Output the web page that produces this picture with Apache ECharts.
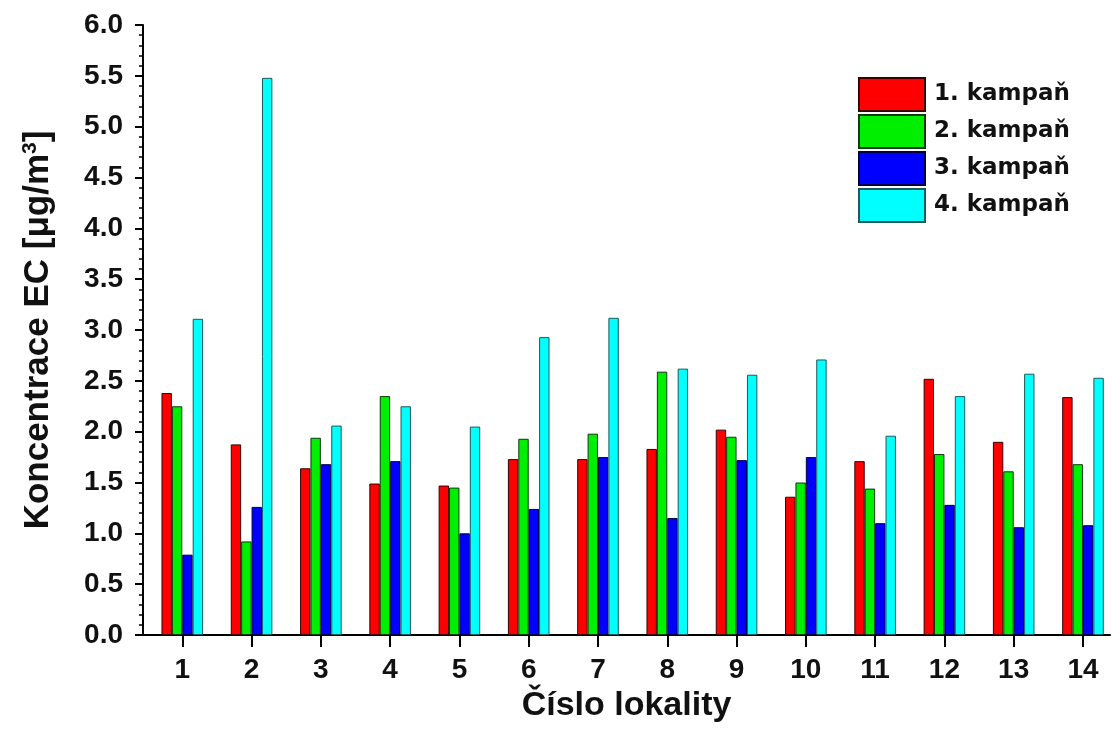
<!DOCTYPE html>
<html>
<head>
<meta charset="utf-8">
<script src="https://cdn.jsdelivr.net/npm/echarts@6/dist/echarts.min.js"></script>
<style>html,body{margin:0;padding:0;background:#fff}#c{width:1114px;height:733px}</style>
</head>
<body>
<div id="c"></div>
<script>
const categories = [1,2,3,4,5,6,7,8,9,10,11,12,13,14];
const seriesNames = ['1. kampaň','2. kampaň','3. kampaň','4. kampaň'];
const kampan1 = [2.38,1.875,1.64,1.49,1.47,1.73,1.73,1.83,2.02,1.36,1.71,2.52,1.90,2.34];
const kampan2 = [2.25,0.92,1.94,2.35,1.45,1.93,1.98,2.59,1.95,1.50,1.44,1.78,1.61,1.68];
const kampan3 = [0.79,1.26,1.68,1.71,1.00,1.24,1.75,1.15,1.72,1.75,1.10,1.28,1.06,1.08];
const kampan4 = [3.11,5.48,2.06,2.25,2.05,2.93,3.12,2.62,2.56,2.71,1.96,2.35,2.57,2.53];
const yTicks = [0,0.5,1,1.5,2,2.5,3,3.5,4,4.5,5,5.5,6];
const colors = ['#ff0000','#00ee00','#0000ff','#00ffff'];
const borders = ['#3a0000','#0a3a0a','#000040','#1a5a5a'];
const values = [kampan1,kampan2,kampan3,kampan4];

const font = '"Liberation Sans", Arial, sans-serif';
const chart = echarts.init(document.getElementById('c'), null, {renderer:'canvas'});
chart.setOption({
  animation:false,
  backgroundColor:'#ffffff',
  grid:{left:143,right:4,top:25,bottom:98,containLabel:false},
  legend:{
    orient:'vertical', left:858, top:77, padding:0,
    icon:'rect',
    itemWidth:66, itemHeight:33, itemGap:2,
    textStyle:{fontFamily:'"DejaVu Sans", sans-serif',fontWeight:'bold',fontSize:23,color:'#111',padding:[0,0,0,4]},
    data:seriesNames
  },
  xAxis:{
    type:'value', min:0.433, max:14.39,
    name:'Číslo lokality', nameLocation:'middle', nameGap:54,
    nameTextStyle:{fontFamily:font,fontWeight:'bold',fontSize:34,color:'#111'},
    axisLine:{show:true,lineStyle:{color:'#000',width:2}},
    axisTick:{show:true,inside:false,length:12,lineStyle:{color:'#000',width:2},customValues:categories},
    axisLabel:{fontFamily:font,fontWeight:'bold',fontSize:28,color:'#111',margin:21,customValues:categories},
    splitLine:{show:false}
  },
  yAxis:{
    type:'value', min:0, max:6, interval:0.5,
    name:'Koncentrace EC [μg/m{sup|3}]', nameLocation:'middle', nameGap:86,
    nameTextStyle:{fontFamily:font,fontWeight:'bold',fontSize:35,color:'#111',
      rich:{sup:{fontFamily:font,fontWeight:'bold',fontSize:21,color:'#111',padding:[0,0,16,0]}}},
    axisLine:{show:true,lineStyle:{color:'#000',width:2}},
    axisTick:{show:true,inside:false,length:8,lineStyle:{color:'#000',width:2}},
    minorTick:{show:true,splitNumber:5,length:4,lineStyle:{color:'#000',width:1.5}},
    axisLabel:{fontFamily:font,fontWeight:'bold',fontSize:28,color:'#111',margin:20,
      formatter:v=>v.toFixed(1)},
    splitLine:{show:false}
  },
  series: seriesNames.map((n,i)=>({
    name:n, type:'bar', barWidth:10.4, barGap:'0%',
    itemStyle:{color:colors[i],borderColor:borders[i],borderWidth:1},
    data: categories.map((c,j)=>[c, values[i][j]])
  }))
});
</script>
</body>
</html>
